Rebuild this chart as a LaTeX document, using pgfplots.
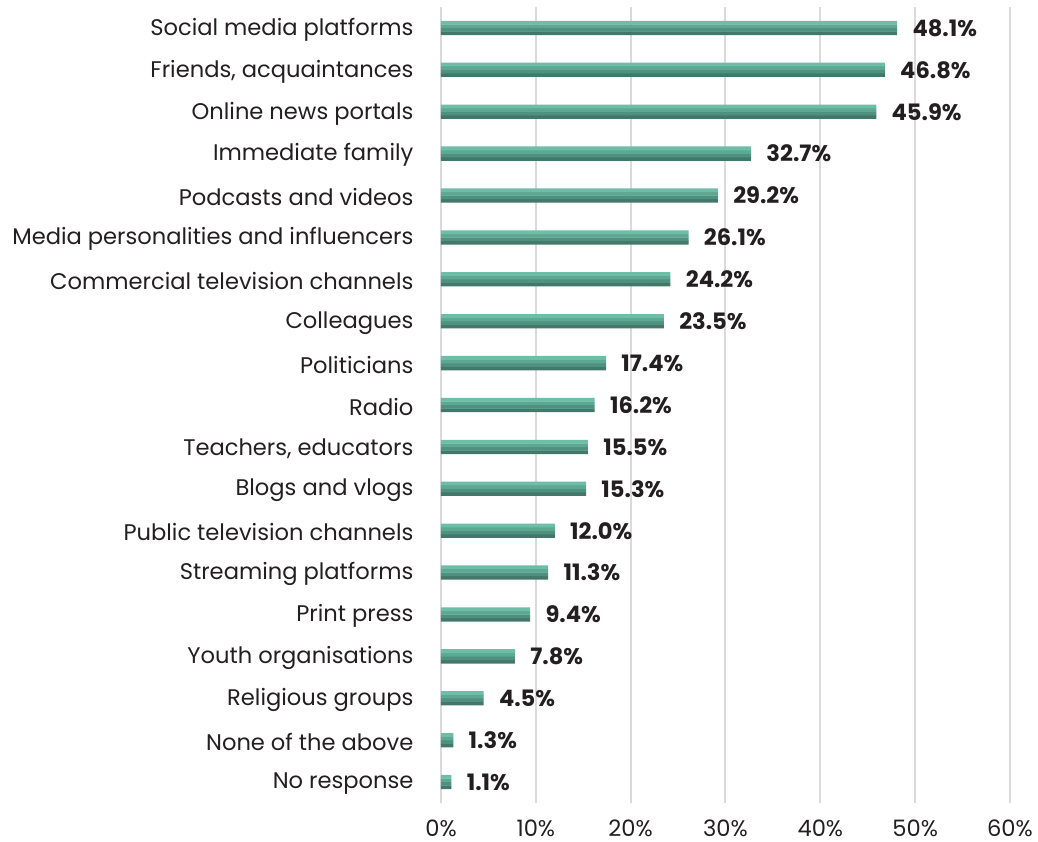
\documentclass[border=0pt]{standalone}
\usepackage{fontspec}
\setmainfont{Poppins}
\usepackage{pgfplots}
\usepackage{pgfplotstable}
\pgfplotsset{compat=1.18}
\usetikzlibrary{calc}
\definecolor{bandA}{HTML}{6DBDA7}
\definecolor{bandB}{HTML}{5DA891}
\definecolor{bandC}{HTML}{4F9080}
\definecolor{bandD}{HTML}{42786A}
\definecolor{txt}{HTML}{231F20}
\definecolor{gridc}{HTML}{DADADA}
\pgfplotstableread{
val pos
48.1 0
46.8 1
45.9 2
32.7 3
29.2 4
26.1 5
24.2 6
23.5 7
17.4 8
16.2 9
15.5 10
15.3 11
12.0 12
11.3 13
9.4 14
7.8 15
4.5 16
1.3 17
1.1 18
}\share
\begin{document}
\begin{tikzpicture}
\begin{axis}[name=ax,
    width=284.5pt, height=398pt, scale only axis,
    xmin=0, xmax=60, ymin=-0.5, ymax=18.5, y dir=reverse,
    axis line style={draw=none}, major tick style={draw=none},
    xmajorgrids, grid style={line width=1pt, color=gridc},
    xtick={0,10,...,60},
    xticklabel={\pgfmathprintnumber{\tick}\%},
    /pgf/number format/assume math mode=true,
    ticklabel style={font=\fontsize{11.3}{13}\selectfont, text=txt},
    xticklabel style={inner sep=0pt, yshift=-8.2pt},
    ytick={0,...,18},
    yticklabel style={xshift=-6pt, yshift=-0.8pt},
    yticklabels={Social media platforms, {Friends, acquaintances}, Online news portals, Immediate family, Podcasts and videos, Media personalities and influencers, Commercial television channels, Colleagues, Politicians, Radio, {Teachers, educators}, Blogs and vlogs, Public television channels, Streaming platforms, Print press, Youth organisations, Religious groups, None of the above, No response},
    xbar, bar width=1.9pt, every axis plot/.append style={draw=none},
  ]
  \addplot[fill=bandD, bar shift=-2.625pt] table[x=val, y=pos] {\share};
  \addplot[fill=bandC, bar shift=-0.875pt] table[x=val, y=pos] {\share};
  \addplot[fill=bandB, bar shift=0.875pt] table[x=val, y=pos] {\share};
  \addplot[fill=bandA, bar shift=2.625pt] table[x=val, y=pos] {\share};
  \addplot[fill=none, bar width=7pt, bar shift=0pt, point meta=x,
    nodes near coords={\pgfmathprintnumber[fixed,fixed zerofill,precision=1]{\pgfplotspointmeta}\%},
    nodes near coords style={font=\bfseries\fontsize{11.3}{13}\selectfont, text=txt, anchor=west, inner sep=0pt, xshift=7.5pt}]
    table[x=val, y=pos] {\share};
\end{axis}
\pgfresetboundingbox
\path ($(ax.south west)+(-220.5pt,-19pt)$) rectangle ++(519pt,420.5pt);
\end{tikzpicture}
\end{document}
